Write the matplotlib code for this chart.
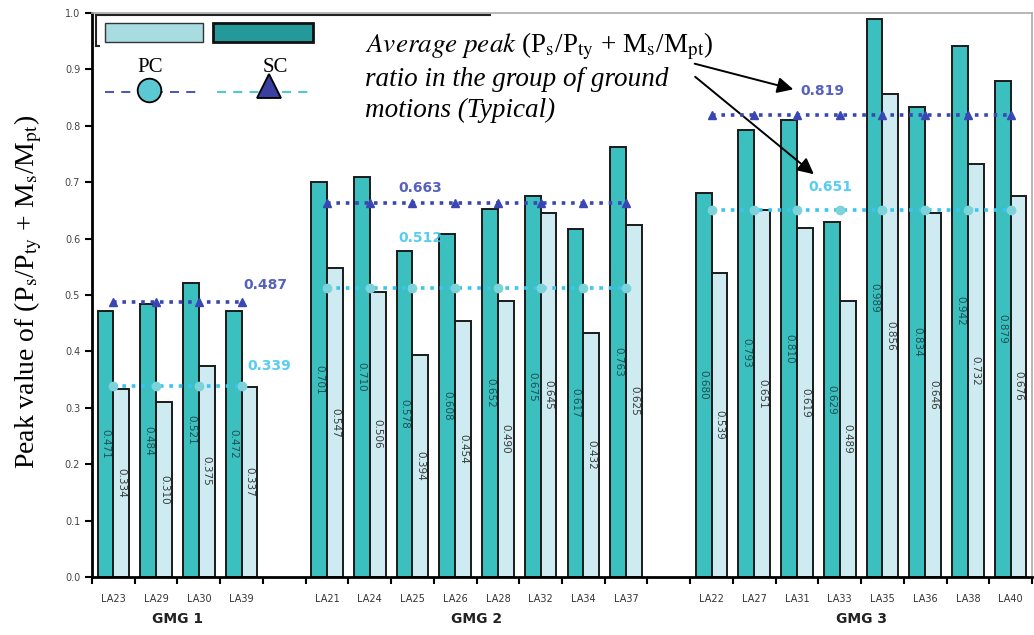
import numpy as np
import matplotlib.pyplot as plt
from matplotlib.patches import Rectangle
from matplotlib.lines import Line2D

plt.rcParams["mathtext.fontset"] = "stix"

# ground motions per group (a blank slot sits between groups)
groups = ["GMG 1", "GMG 2", "GMG 3"]
records = [
    ["LA23", "LA29", "LA30", "LA39"],
    ["LA21", "LA24", "LA25", "LA26", "LA28", "LA32", "LA34", "LA37"],
    ["LA22", "LA27", "LA31", "LA33", "LA35", "LA36", "LA38", "LA40"],
]
sc_vals = [
    [0.471, 0.484, 0.521, 0.472],
    [0.701, 0.710, 0.578, 0.608, 0.652, 0.675, 0.617, 0.763],
    [0.680, 0.793, 0.810, 0.629, 0.989, 0.834, 0.942, 0.879],
]
pc_vals = [
    [0.334, 0.310, 0.375, 0.337],
    [0.547, 0.506, 0.394, 0.454, 0.490, 0.645, 0.432, 0.625],
    [0.539, 0.651, 0.619, 0.489, 0.856, 0.646, 0.732, 0.676],
]
sc_avg = [0.487, 0.663, 0.819]
pc_avg = [0.339, 0.512, 0.651]

SC_FILL = "#3BBFBF"
PC_FILL = "#CDEBF0"
SC_LINE = "#3A46B2"
PC_LINE = "#3BC4F0"
PC_MARK = "#7DD3DA"

W, H = 1034, 635
fig = plt.figure(figsize=(W / 100, H / 100), dpi=100)
ax = fig.add_axes([92 / W, 1 - 577 / H, 940 / W, 564 / H])

bw = 0.37
labels = []
pos = 0
group_centers = []
for g, recs in enumerate(records):
    xs = np.arange(pos, pos + len(recs))
    group_centers.append(xs.mean())
    ax.bar(xs - bw / 2, sc_vals[g], width=bw, color=SC_FILL,
           edgecolor="#1a1a1a", linewidth=1.4, zorder=2)
    ax.bar(xs + bw / 2, pc_vals[g], width=bw, color=PC_FILL,
           edgecolor="#1a1a1a", linewidth=1.4, zorder=2)
    for x, s, p in zip(xs, sc_vals[g], pc_vals[g]):
        ax.text(x - bw / 2, s / 2, f"{s:.3f}", rotation=270, ha="center",
                va="center", fontsize=7.5, color="#1f4f4f", zorder=3)
        ax.text(x + bw / 2, p / 2, f"{p:.3f}", rotation=270, ha="center",
                va="center", fontsize=7.5, color="#3a3a3a", zorder=3)
    # group averages
    ax.plot(xs, [pc_avg[g]] * len(xs), linestyle=(0, (1, 1.6)), color=PC_LINE,
            lw=2.6, marker="o", ms=6, mfc=PC_MARK, mec=PC_MARK, zorder=4)
    ax.plot(xs, [sc_avg[g]] * len(xs), linestyle=(0, (1, 1.6)), color=SC_LINE,
            lw=2.6, marker="^", ms=6, mfc=SC_LINE, mec=SC_LINE, zorder=4)
    labels += recs
    pos += len(recs)
    if g < len(records) - 1:
        labels.append("")
        pos += 1

n = len(labels)
ax.set_xlim(-0.5, n - 0.5)
ax.set_ylim(0, 1.0)

# average labels
avg_txt = [
    (3.55, 0.517, sc_avg[0], SC_LINE), (3.64, 0.374, pc_avg[0], PC_LINE),
    (7.18, 0.689, sc_avg[1], SC_LINE), (7.18, 0.601, pc_avg[1], PC_LINE),
    (16.6, 0.862, sc_avg[2], SC_LINE), (16.77, 0.691, pc_avg[2], PC_LINE),
]
for x, y, v, c in avg_txt:
    ax.text(x, y, f"{v:.3f}", ha="center", va="center", fontsize=10,
            fontweight="bold", color=c, alpha=0.85, zorder=5)

# axes styling
ax.set_yticks(np.arange(0, 1.01, 0.1))
ax.set_yticklabels([f"{v:.1f}" for v in np.arange(0, 1.01, 0.1)])
ax.set_xticks(np.arange(-0.5, n, 1.0))
ax.set_xticklabels([])
ax.set_xticks(np.arange(n), minor=True)
ax.set_xticklabels(labels, minor=True)
ax.tick_params(axis="x", which="major", direction="out", length=5, width=1.5)
ax.tick_params(axis="x", which="minor", length=0, pad=12, labelsize=7,
               labelcolor="#333333")
ax.tick_params(axis="y", direction="out", length=5, width=1.5, labelsize=7,
               labelcolor="#444444")
for s in ["left", "bottom"]:
    ax.spines[s].set_linewidth(2)
for s in ["top", "right"]:
    ax.spines[s].set_color("#aaaaaa")
    ax.spines[s].set_linewidth(1.2)

for gname, gc in zip(groups, group_centers):
    ax.text(gc, -0.075, gname, transform=ax.get_xaxis_transform(),
            ha="center", va="center", fontsize=10, fontweight="bold",
            color="#222222")

fig.text(28 / W, 1 - 292 / H,
         r"Peak value of (P$_\mathrm{s}$/P$_\mathrm{ty}$ + M$_\mathrm{s}$/M$_\mathrm{pt}$)",
         rotation=90, ha="center", va="center", fontsize=20,
         family="Liberation Serif")


# legend drawn by hand, in figure pixel coordinates
def fx(px):
    return px / W


def fy(py):
    return 1 - py / H


fig.add_artist(Line2D([fx(96), fx(490)], [fy(15), fy(15)], color="#222222", lw=1.5))
fig.add_artist(Line2D([fx(96), fx(96)], [fy(15), fy(46)], color="#222222", lw=1.5))
fig.add_artist(Line2D([fx(96), fx(99)], [fy(46), fy(46)], color="#222222", lw=1.5))
fig.add_artist(Rectangle((fx(105), fy(42)), fx(98), 19 / H, facecolor="#A8DCE0",
                         edgecolor="#333333", lw=1))
fig.add_artist(Rectangle((fx(213), fy(42)), fx(100), 19 / H, facecolor="#23999A",
                         edgecolor="#111111", lw=2))
fig.add_artist(Line2D([fx(105), fx(200)], [fy(92), fy(92)], color="#3A46B2",
                      lw=1.3, linestyle=(0, (5, 4))))
fig.add_artist(Line2D([fx(217), fx(312)], [fy(92), fy(92)], color="#3BC4D0",
                      lw=1.3, linestyle=(0, (5, 4))))
fig.add_artist(Line2D([fx(149)], [fy(90)], marker="o", ms=17, mfc="#5BC8D2",
                      mec="black", mew=1.3))
fig.add_artist(Line2D([fx(269)], [fy(86)], marker="^", ms=17, mfc="#3A3FA0",
                      mec="black", mew=1.3))
fig.text(fx(150), fy(68), "PC", ha="center", va="center", fontsize=15,
         family="Liberation Serif")
fig.text(fx(275), fy(68), "SC", ha="center", va="center", fontsize=15,
         family="Liberation Serif")

# annotation
fig.text(fx(365), fy(46),
         r"$\mathit{Average\ peak}$ (P$_\mathrm{s}$/P$_\mathrm{ty}$ + M$_\mathrm{s}$/M$_\mathrm{pt}$)",
         ha="left", va="center", fontsize=19.5, family="Liberation Serif")
fig.text(fx(365), fy(80), "ratio in the group of ground", ha="left", va="center",
         fontsize=19.5, family="Liberation Serif", style="italic")
fig.text(fx(365), fy(110), "motions (Typical)", ha="left", va="center",
         fontsize=19.5, family="Liberation Serif", style="italic")
arrow = dict(arrowstyle="-|>", color="black", lw=1.4, mutation_scale=24)
ax.annotate("", xy=(fx(796), fy(90)), xytext=(fx(692), fy(63)),
            xycoords="figure fraction", textcoords="figure fraction",
            arrowprops=arrow)
ax.annotate("", xy=(fx(816), fy(176)), xytext=(fx(693), fy(75)),
            xycoords="figure fraction", textcoords="figure fraction",
            arrowprops=arrow)

fig.savefig("out.png", dpi=100)
